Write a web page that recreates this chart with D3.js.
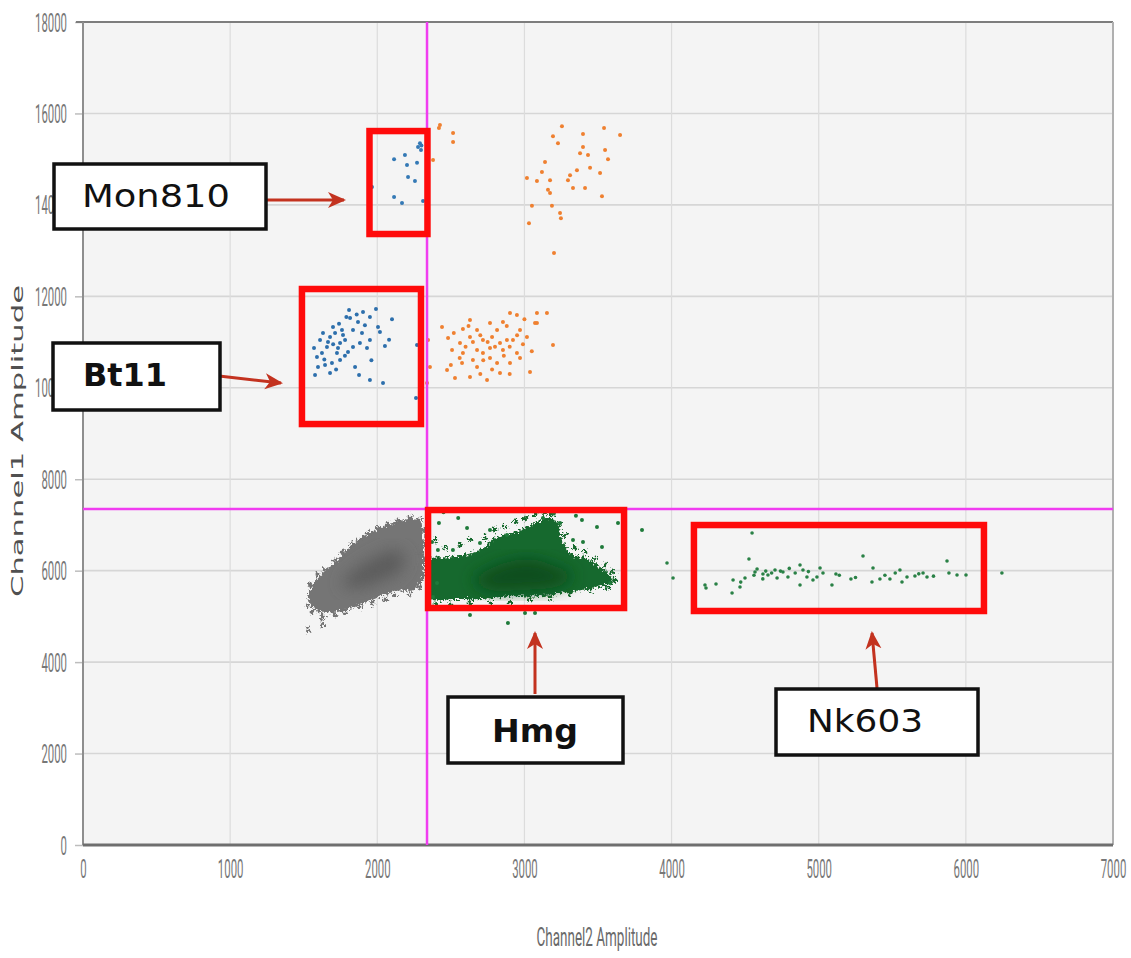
<!DOCTYPE html>
<html>
<head>
<meta charset="utf-8">
<script src="https://cdn.jsdelivr.net/npm/d3@7"></script>
<style>
  body { margin: 0; background: #ffffff; }
  svg { display: block; }
</style>
</head>
<body>
<svg id="chart" width="1131" height="958"></svg>
<script>
// ---- axes ----
const xTicks = [0, 1000, 2000, 3000, 4000, 5000, 6000, 7000];
const yTicks = [0, 2000, 4000, 6000, 8000, 10000, 12000, 14000, 16000, 18000];
const xTitle = "Channel2 Amplitude";
const yTitle = "Channel1 Amplitude";

// ---- threshold lines (Channel2, Channel1) ----
const thresholdX = 2338;
const thresholdY = 7350;

// ---- double-negative droplet cloud (grey) ----
const negativeOutline = [[1530,5424],[1570,5731],[1679,6080],[1794,6452],[1903,6737],[2018,6933],[2154,7090],[2260,7130],[2305,7000],[2315,6500],[2305,5796],[2243,5577],[2134,5560],[2018,5424],[1903,5293],[1794,5150],[1679,5090],[1570,5160]];
const negativeCore = [[1760,5700],[1850,6020],[1990,6300],[2120,6450],[2190,6280],[2140,5950],[2000,5760],[1860,5620]];
const negativeEdge = [[1543,5686],[1597,5905],[1645,6014],[1713,6233],[1760,6408],[1828,6561],[1882,6670],[1937,6823],[2005,6933],[2073,7020],[2141,7108],[2222,7173],[2290,7108],[2324,6889],[2331,6561],[2317,6233],[2320,5905],[2290,5620],[2222,5468],[2120,5468],[2052,5358],[1964,5293],[1882,5205],[1781,5096],[1713,5030],[1624,5030],[1556,5096],[1529,5249],[1529,4702],[1624,4811],[1631,4964],[2188,5796],[2256,6124],[2277,6452]];

// ---- Hmg droplet cloud (green) ----
const hmgOutline = [[2365,6234],[2515,6299],[2698,6452],[2814,6737],[2922,6824],[3058,7020],[3153,7150],[3215,7090],[3255,6671],[3310,6387],[3446,6234],[3514,6080],[3595,5862],[3595,5731],[3493,5643],[3262,5512],[3106,5440],[2922,5440],[2698,5380],[2515,5380],[2365,5380]];
const hmgCore = [[2650,5800],[2760,6030],[2900,6200],[3050,6250],[3190,6120],[3330,5900],[3240,5670],[3000,5580],[2760,5580]];
const hmgEdge = [[2392,6670],[2460,6495],[2562,6561],[2630,6670],[2732,6714],[2800,6889],[2868,6955],[2936,7064],[3004,7151],[3072,7217],[3140,7261],[3187,7217],[3242,6998],[3276,6780],[3344,6495],[3412,6408],[3480,6277],[3548,6124],[3595,5971],[3615,5796],[3568,5620],[3446,5577],[3310,5511],[3174,5402],[3038,5358],[2902,5314],[2766,5293],[2630,5293],[2494,5249],[2392,5249],[2372,5577],[2358,5905],[2372,6233]];
const hmgScatter = [[2419,7042],[2610,6933],[2766,6889],[2698,6605],[2514,6452],[2412,6452],[2372,6627],[2881,6780],[3391,7108],[3493,6955],[3636,7042],[3670,6736],[3330,6671],[3398,6627],[3527,6518],[3799,6889],[3582,5730],[2630,5030],[3004,5074],[3072,5074],[2888,4855],[2379,5424],[2406,5730],[3242,7042],[3126,7152],[3200,7250],[3350,7200],[2550,7150],[2450,7280]];

// ---- Nk603 droplets (green, high Channel2) ----
const nk603Points = [[3969,6167],[4010,5839],[4227,5686],[4234,5620],[4302,5708],[4411,5511],[4418,5796],[4465,5642],[4499,5839],[4547,6823],[4526,6255],[4567,5971],[4581,6036],[4621,5927],[4655,5905],[4703,6014],[4717,5839],[4757,5971],[4791,5861],[4873,6124],[4893,6014],[4873,5686],[4920,5861],[4961,5796],[4988,5861],[5009,6058],[5029,5949],[5090,5686],[5117,5927],[5219,5817],[5301,6320],[5369,6058],[5362,5752],[5416,5817],[5484,5817],[5552,6014],[5566,5752],[5600,5861],[5654,5883],[5709,5949],[5736,5861],[5872,6211],[5885,5949],[5940,5905],[6001,5905],[6245,5949],[4640,5990],[4680,5950],[4740,5990],[4840,5950],[4930,5980],[4800,6050],[5140,5900],[5250,5850],[5450,5900],[5520,5950],[5680,5930],[5780,5880],[4560,5900],[4470,5750],[4620,5820]];

// ---- Channel1-positive droplets (blue) ----
const bt11Points = [[1808,11700],[1903,11657],[1991,11722],[1950,11547],[1815,11525],[1699,11330],[1760,11263],[1869,11438],[2005,11330],[2018,11219],[1631,11197],[1679,11110],[1767,11154],[1896,11197],[1950,11044],[2052,10913],[1570,10869],[1658,10891],[1747,10979],[1835,10891],[1882,10979],[1624,10760],[1726,10760],[1801,10782],[1692,10541],[1747,10607],[1597,10454],[1645,10498],[1849,10454],[1577,10279],[1679,10322],[1876,10279],[1950,10170],[2039,10104],[2270,10935],[2263,9776],[1713,11197],[1781,11044],[1835,11263],[1916,11370],[1665,11000],[1611,11044],[1733,10869],[1930,10869],[1590,10673],[1740,11400],[1790,11550],[1860,11600],[1700,10950],[1780,10700],[1640,10620],[1720,10400],[2100,11500],[2080,11050],[1960,10600]];
const mon810Points = [[2290,15350],[2277,15265],[2297,15200],[2114,15000],[2188,15090],[2202,14870],[2270,14920],[2209,14610],[2256,14520],[1964,14390],[2114,14170],[2168,14040],[2311,14085],[2300,15300]];

// ---- double-positive droplets (orange) ----
const orangeLow = [[2440,11330],[2345,11044],[2481,11088],[2630,11482],[2582,11285],[2678,11263],[2766,11416],[2814,11263],[2902,11635],[2949,11591],[2854,11438],[2970,11263],[3085,11635],[3153,11635],[3072,11416],[3017,11110],[2922,11044],[2834,10979],[2718,11044],[2630,11110],[2562,10979],[2508,10826],[2582,10760],[2678,10826],[2766,10869],[2854,10826],[2949,10760],[2970,10651],[2766,10651],[2650,10607],[2576,10541],[2678,10454],[2814,10541],[2902,10541],[2474,10388],[2528,10213],[2630,10235],[2746,10170],[2834,10322],[3038,10344],[3194,10935],[2358,10454],[2338,10104],[3085,11416],[2718,10760],[2881,11044],[2780,11110],[2700,11150],[2750,11000],[2800,10900],[2860,10700],[2900,10900],[2600,10900],[2650,11000],[2720,10600],[2780,10400],[2560,10650],[2950,11150],[2990,10950],[3000,11500],[2880,11350],[2620,11350],[2520,11200],[2700,10300],[2900,10300],[3050,10800],[2500,10500]];
const orangeHigh = [[2426,15750],[2419,15680],[2515,15570],[2515,15375],[2379,14980],[3255,15720],[3194,15500],[3228,15350],[3398,15550],[3541,15680],[3650,15530],[3398,15265],[3378,15130],[3432,15090],[3548,15200],[3568,15000],[3140,14940],[3446,14810],[3357,14760],[3310,14650],[3296,14540],[3514,14700],[3119,14720],[3017,14590],[3085,14520],[3174,14540],[3160,14330],[3174,14260],[3330,14370],[3412,14370],[3527,14190],[3051,13980],[3187,13980],[3242,13820],[3248,13710],[3031,13600],[3201,12950]];

// ---- gates drawn around each target population ----
const gateNames = ["Mon810", "Bt11", "Hmg", "Nk603"];
const gateX = [[1947, 2341], [1488, 2297], [2345, 3677], [4152, 6123]];
const gateY = [[13363, 15615], [9207, 12160], [5183, 7326], [5118, 6998]];

// ---- layout ----
const plot = { left: 83, right: 1113, top: 22, bottom: 845 };
const svg = d3.select("#chart");

const x = d3.scaleLinear().domain([0, 7000]).range([plot.left, plot.right]);
const y = d3.scaleLinear().domain([0, 18000]).range([plot.bottom, plot.top]);

const defs = svg.append("defs");
defs.append("filter").attr("id", "soft").attr("x", "-30%").attr("y", "-30%").attr("width", "160%").attr("height", "160%")
  .append("feGaussianBlur").attr("stdDeviation", 8);
// ragged edge for the dense droplet clouds
const rough = defs.append("filter").attr("id", "rough").attr("x", "-10%").attr("y", "-10%").attr("width", "120%").attr("height", "120%");
rough.append("feTurbulence").attr("type", "fractalNoise").attr("baseFrequency", 0.45).attr("numOctaves", 2).attr("seed", 3).attr("result", "noise");
rough.append("feDisplacementMap").attr("in", "SourceGraphic").attr("in2", "noise").attr("scale", 9)
  .attr("xChannelSelector", "R").attr("yChannelSelector", "G");
defs.append("marker").attr("id", "arrowHead")
  .attr("viewBox", "0 0 18 18").attr("refX", 16).attr("refY", 9)
  .attr("markerWidth", 18).attr("markerHeight", 18)
  .attr("markerUnits", "userSpaceOnUse").attr("orient", "auto")
  .append("path").attr("d", "M0,1 L18,9 L0,17 L5,9 Z").attr("fill", "#c3321f");

// plot background
svg.append("rect")
  .attr("x", plot.left).attr("y", plot.top)
  .attr("width", plot.right - plot.left).attr("height", plot.bottom - plot.top)
  .attr("fill", "#f4f4f4");

// gridlines
svg.append("g").selectAll("line").data(yTicks.slice(1, -1)).join("line")
  .attr("x1", plot.left).attr("x2", plot.right)
  .attr("y1", d => y(d)).attr("y2", d => y(d))
  .attr("stroke", "#d6d6d6").attr("stroke-width", 1.6);
svg.append("g").selectAll("line").data(xTicks.slice(1, -1)).join("line")
  .attr("x1", d => x(d)).attr("x2", d => x(d))
  .attr("y1", plot.top).attr("y2", plot.bottom)
  .attr("stroke", "#dcdcdc").attr("stroke-width", 1.2);

// y axis tick marks and labels
const yAxis = d3.axisLeft(y).tickValues(yTicks).tickSize(8).tickFormat(d => d);
const gy = svg.append("g").attr("transform", `translate(${plot.left},0)`).call(yAxis);
gy.select(".domain").remove();
gy.selectAll(".tick line").attr("stroke", "#bdbdbd").attr("stroke-width", 1.5);
gy.selectAll(".tick text")
  .attr("x", -16).attr("dy", "0.36em")
  .attr("fill", "#777777")
  .style("font-family", "Roboto, 'Liberation Sans', sans-serif")
  .style("font-size", "25px")
  .attr("text-anchor", "end")
  .attr("textLength", d => String(d).length * 6.4)
  .attr("lengthAdjust", "spacingAndGlyphs");

// x axis labels
const xAxis = d3.axisBottom(x).tickValues(xTicks).tickSize(0).tickFormat(d => d);
const gx = svg.append("g").attr("transform", `translate(0,${plot.bottom})`).call(xAxis);
gx.select(".domain").remove();
gx.selectAll(".tick text")
  .attr("y", 24).attr("dy", "0.36em")
  .attr("fill", "#777777")
  .style("font-family", "Roboto, 'Liberation Sans', sans-serif")
  .style("font-size", "25px")
  .attr("textLength", d => String(d).length * 6.4)
  .attr("lengthAdjust", "spacingAndGlyphs");

// frame
svg.append("line").attr("x1", plot.left - 7).attr("x2", plot.right).attr("y1", plot.top).attr("y2", plot.top)
  .attr("stroke", "#7d7d7d").attr("stroke-width", 2);
svg.append("line").attr("x1", plot.right).attr("x2", plot.right).attr("y1", plot.top).attr("y2", plot.bottom)
  .attr("stroke", "#b0b0b0").attr("stroke-width", 2);
svg.append("line").attr("x1", plot.left).attr("x2", plot.left).attr("y1", plot.top).attr("y2", plot.bottom)
  .attr("stroke", "#8e8e8e").attr("stroke-width", 2);
svg.append("line").attr("x1", plot.left).attr("x2", plot.right).attr("y1", plot.bottom).attr("y2", plot.bottom)
  .attr("stroke", "#6e6e6e").attr("stroke-width", 3);

// axis titles
svg.append("text")
  .attr("x", 597).attr("y", 946)
  .attr("text-anchor", "middle")
  .attr("fill", "#6a6a6a")
  .style("font-family", "Roboto, 'Liberation Sans', sans-serif")
  .style("font-size", "25px")
  .attr("textLength", 121).attr("lengthAdjust", "spacingAndGlyphs")
  .text(xTitle);
svg.append("text")
  .attr("transform", "translate(23,441) rotate(-90)")
  .attr("text-anchor", "middle")
  .attr("fill", "#505050")
  .style("font-family", "'DejaVu Sans', sans-serif")
  .style("font-size", "15px")
  .attr("textLength", 312).attr("lengthAdjust", "spacingAndGlyphs")
  .text(yTitle);

// ---- droplet clouds ----
const blob = d3.line().x(d => x(d[0])).y(d => y(d[1])).curve(d3.curveCatmullRomClosed.alpha(0.5));
const clusters = svg.append("g");

function cloud(outline, core, edge, outer, inner) {
  const g = clusters.append("g");
  const body = g.append("g").attr("filter", "url(#rough)");
  body.append("path").attr("d", blob(outline)).attr("fill", outer);
  body.selectAll("circle").data(edge).join("circle")
    .attr("cx", d => x(d[0])).attr("cy", d => y(d[1])).attr("r", 2.4).attr("fill", outer);
  g.append("path").attr("d", blob(core)).attr("fill", inner).attr("filter", "url(#soft)");
}
cloud(negativeOutline, negativeCore, negativeEdge, "#747474", "#5c5c5c");
cloud(hmgOutline, hmgCore, hmgEdge, "#17692d", "#0a4d1c");

function dots(points, color, r) {
  clusters.append("g").selectAll("circle").data(points).join("circle")
    .attr("cx", d => x(d[0])).attr("cy", d => y(d[1])).attr("r", r).attr("fill", color);
}
dots(hmgScatter, "#1e7a3a", 2);
dots(nk603Points, "#2a8146", 1.8);
dots(bt11Points, "#2d6fac", 2);
dots(mon810Points, "#3479b5", 2);
dots(orangeLow, "#ef8030", 2);
dots(orangeHigh, "#ef8030", 2);

// threshold lines
svg.append("line")
  .attr("x1", x(thresholdX)).attr("x2", x(thresholdX)).attr("y1", plot.top).attr("y2", plot.bottom)
  .attr("stroke", "#f03cf0").attr("stroke-width", 2.5);
svg.append("line")
  .attr("x1", plot.left).attr("x2", plot.right).attr("y1", y(thresholdY)).attr("y2", y(thresholdY))
  .attr("stroke", "#f03cf0").attr("stroke-width", 2.5);

// gates
svg.append("g").selectAll("rect").data(gateNames).join("rect")
  .attr("x", (d, i) => x(gateX[i][0]))
  .attr("y", (d, i) => y(gateY[i][1]))
  .attr("width", (d, i) => x(gateX[i][1]) - x(gateX[i][0]))
  .attr("height", (d, i) => y(gateY[i][0]) - y(gateY[i][1]))
  .attr("fill", "none").attr("stroke", "#ff0a0a").attr("stroke-width", 6.5);

// callout labels with arrows
const callouts = [
  { text: "Mon810", box: [54, 164, 212, 65], tx: 156, ty: 207, tw: 148, weight: 500, arrow: [267, 200, 344, 200] },
  { text: "Bt11",   box: [53, 343, 167, 67], tx: 125, ty: 386, tw: 84,  weight: 700, arrow: [219, 376, 281, 383] },
  { text: "Hmg",    box: [448, 697, 175, 66], tx: 535, ty: 742, tw: 86,  weight: 700, arrow: [535, 694, 535, 633] },
  { text: "Nk603",  box: [776, 689, 202, 66], tx: 865, ty: 732, tw: 116, weight: 500, arrow: [877, 688, 872, 633] }
];
const cg = svg.append("g").selectAll("g").data(callouts).join("g");
cg.append("line")
  .attr("x1", d => d.arrow[0]).attr("y1", d => d.arrow[1])
  .attr("x2", d => d.arrow[2]).attr("y2", d => d.arrow[3])
  .attr("stroke", "#c3321f").attr("stroke-width", 3)
  .attr("marker-end", "url(#arrowHead)");
cg.append("rect")
  .attr("x", d => d.box[0]).attr("y", d => d.box[1])
  .attr("width", d => d.box[2]).attr("height", d => d.box[3])
  .attr("fill", "#ffffff").attr("stroke", "#111111").attr("stroke-width", 3.5);
cg.append("text")
  .attr("x", d => d.tx).attr("y", d => d.ty)
  .attr("text-anchor", "middle")
  .attr("fill", "#111111")
  .style("font-family", "'DejaVu Sans', sans-serif")
  .style("font-size", "32px")
  .style("font-weight", d => d.weight)
  .attr("textLength", d => d.tw).attr("lengthAdjust", "spacingAndGlyphs")
  .text(d => d.text);
</script>
</body>
</html>
